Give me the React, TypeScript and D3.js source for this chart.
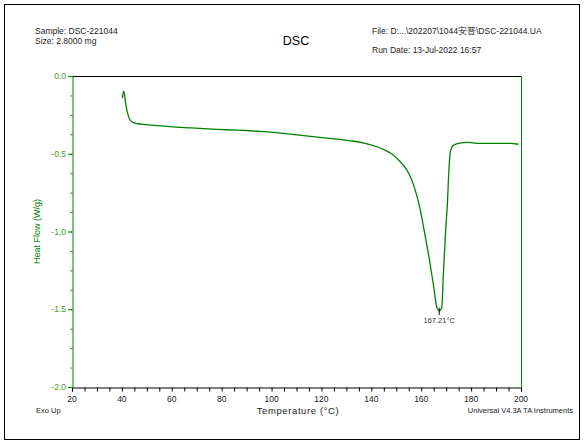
import React, { useEffect, useRef } from 'react';
import * as d3 from 'd3';

const W = 586;
const H = 443;
const GREEN = '#008000';
const FONT = '"Liberation Sans", Arial, sans-serif';

// DSC curve
const temperature = [
  40.2, 40.7, 41.0, 41.5, 42.3, 43.3, 44.6, 46.5, 48.6, 53, 59.3, 68, 78, 86, 91.4, 95.4, 104.7, 113, 122.1,
  131.5, 137, 142.2, 145.5, 148.8, 151.5, 154.2, 156, 157.5, 159.5, 161.5, 163.3, 164.9, 166.2, 167.21, 168.2,
  168.9, 169.8, 170.5, 170.9, 171.6, 172.6, 174.9, 178.9, 182.3, 190, 195.6, 199,
];
const heatFlow = [
  -0.143, -0.097, -0.115, -0.176, -0.24, -0.283, -0.3, -0.307, -0.311, -0.318, -0.326, -0.334, -0.343, -0.348,
  -0.352, -0.356, -0.369, -0.383, -0.399, -0.416, -0.431, -0.455, -0.477, -0.508, -0.55, -0.604, -0.66, -0.729,
  -0.851, -1.022, -1.183, -1.344, -1.483, -1.51, -1.494, -1.269, -0.99, -0.819, -0.669, -0.497, -0.45, -0.433,
  -0.427, -0.433, -0.433, -0.433, -0.439,
];

const xDomain = [20, 200];
const yDomain = [-2, 0];
const xTicks = [20, 40, 60, 80, 100, 120, 140, 160, 180, 200];
const yTicks = [0, -0.5, -1, -1.5, -2];
const peakTemp = 167.21;
const peakLabel = '167.21°C';

const M = { left: 72, right: 521, top: 76, bottom: 387 };

const App: React.FC = () => {
  const svgRef = useRef<SVGSVGElement | null>(null);

  useEffect(() => {
    if (!svgRef.current) return;
    const svg = d3.select(svgRef.current);
    svg.selectAll('*').remove();

    const x = d3.scaleLinear().domain(xDomain).range([M.left, M.right]);
    const y = d3.scaleLinear().domain(yDomain).range([M.bottom, M.top]);

    // outer frame
    svg
      .append('rect')
      .attr('x', 4.5)
      .attr('y', 4.5)
      .attr('width', 575)
      .attr('height', 435)
      .attr('fill', 'white')
      .attr('stroke', '#000')
      .attr('stroke-width', 1);

    const txt = (tx: number, ty: number, s: string, size: number, anchor = 'start', fill = '#222') =>
      svg
        .append('text')
        .attr('x', tx)
        .attr('y', ty)
        .attr('font-family', FONT)
        .attr('font-size', size)
        .attr('text-anchor', anchor)
        .attr('fill', fill)
        .text(s);

    // header
    txt(35, 34, 'Sample: DSC-221044', 8.5);
    txt(35, 44, 'Size:  2.8000 mg', 8.5);
    txt(296, 45, 'DSC', 12.5, 'middle', '#000');
    txt(372, 34, 'File: D:...\\202207\\1044安普\\DSC-221044.UA', 8.5);
    txt(372, 53, 'Run Date: 13-Jul-2022  16:57', 8.5);

    // plot frame: top black, right green
    svg
      .append('line')
      .attr('x1', M.left)
      .attr('x2', M.right)
      .attr('y1', M.top + 0.5)
      .attr('y2', M.top + 0.5)
      .attr('stroke', '#000');
    svg
      .append('line')
      .attr('x1', M.right + 0.5)
      .attr('x2', M.right + 0.5)
      .attr('y1', M.top)
      .attr('y2', M.bottom)
      .attr('stroke', GREEN);

    // x axis
    const xAxis = svg.append('g').attr('transform', `translate(0,${M.bottom + 0.5})`);
    xAxis
      .append('g')
      .call(d3.axisBottom(x).tickValues(d3.range(20, 201, 5)).tickSize(4).tickFormat(() => ''))
      .call((g) => g.select('.domain').attr('stroke', '#000'))
      .call((g) => g.selectAll('.tick line').attr('stroke', '#000'));
    xTicks.forEach((t) => txt(x(t), M.bottom + 15, String(t), 8.5, 'middle', '#222'));

    // y axis
    const yAxis = svg.append('g').attr('transform', `translate(${M.left + 0.5},0)`);
    yAxis
      .append('g')
      .call(d3.axisLeft(y).tickValues(d3.range(-2, 0.001, 0.125)).tickSize(2).tickFormat(() => ''))
      .call((g) => g.select('.domain').attr('stroke', GREEN))
      .call((g) => g.selectAll('.tick line').attr('stroke', GREEN));
    yTicks.forEach((t) => {
      svg
        .append('line')
        .attr('x1', M.left - 4)
        .attr('x2', M.left)
        .attr('y1', y(t) + 0.5)
        .attr('y2', y(t) + 0.5)
        .attr('stroke', GREEN);
      txt(M.left - 6, y(t) + 3, d3.format('.1f')(t).replace('−', '-'), 8.5, 'end', '#4a9a2a');
    });

    // axis titles
    svg
      .append('text')
      .attr('transform', `translate(40,${(M.top + M.bottom) / 2}) rotate(-90)`)
      .attr('text-anchor', 'middle')
      .attr('font-family', FONT)
      .attr('font-size', 9)
      .attr('fill', GREEN)
      .text('Heat Flow (W/g)');
    txt(298, 414, 'Temperature (°C)', 9.5, 'middle', '#222').attr('letter-spacing', 0.6);
    txt(36, 413, 'Exo Up', 7.5);
    txt(573, 413, 'Universal V4.3A TA Instruments', 7.5, 'end');

    // curve
    const line = d3
      .line<number>()
      .x((_, i) => x(temperature[i]))
      .y((d) => y(d))
      .curve(d3.curveMonotoneX);
    svg
      .append('path')
      .datum(heatFlow)
      .attr('d', line)
      .attr('fill', 'none')
      .attr('stroke', GREEN)
      .attr('stroke-width', 1.3);

    // peak marker
    const pi = temperature.indexOf(peakTemp);
    const px = x(peakTemp);
    const py = y(heatFlow[pi]);
    svg
      .append('line')
      .attr('x1', px)
      .attr('x2', px)
      .attr('y1', py - 3)
      .attr('y2', py + 4)
      .attr('stroke', '#000')
      .attr('stroke-width', 1);
    txt(px, py + 12, peakLabel, 7.5, 'middle', '#333');
  }, []);

  return (
    <svg ref={svgRef} width={W} height={H} style={{ display: 'block', position: 'absolute', left: 0, top: 0 }} />
  );
};

export default App;
